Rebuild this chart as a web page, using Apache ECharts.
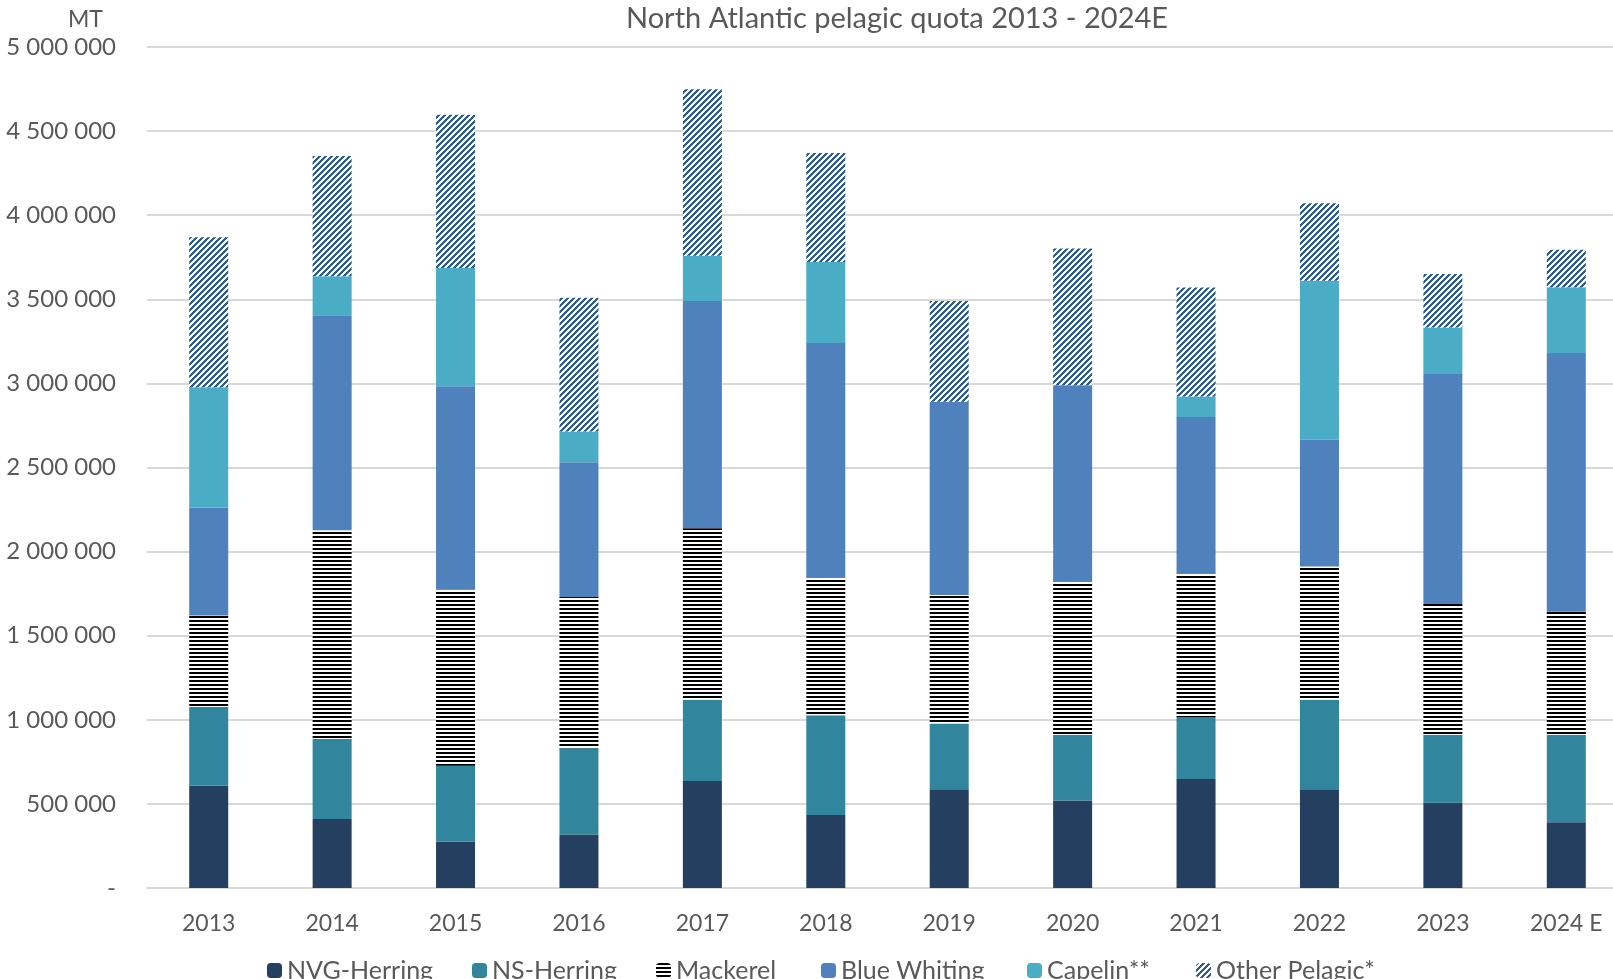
<!DOCTYPE html>
<html>
<head>
<meta charset="utf-8">
<title>North Atlantic pelagic quota</title>
<script src="https://cdn.jsdelivr.net/npm/echarts@6/dist/echarts.min.js"></script>
<style>
  html, body { margin: 0; padding: 0; background: #fff; }
  #chart { width: 1613px; height: 979px; }
</style>
</head>
<body>
<div id="chart"></div>
<script>
// quota per year, tonnes
var years = ['2013', '2014', '2015', '2016', '2017', '2018', '2019', '2020', '2021', '2022', '2023', '2024 E'];
var nvgHerring  = [610000, 410000, 275000, 318000, 636000, 434000, 587000, 520000, 648000, 587000, 507000, 391000];
var nsHerring   = [466000, 476000, 452000, 513000, 483000, 593000, 391000, 391000, 367000, 532000, 404000, 520000];
var mackerel    = [544000, 1241000, 1046000, 899000, 1020000, 819000, 764000, 911000, 855000, 792000, 777000, 731000];
var blueWhiting = [642000, 1278000, 1210000, 801000, 1351000, 1394000, 1149000, 1167000, 930000, 756000, 1368000, 1539000];
var capelin     = [715000, 232000, 703000, 183000, 269000, 482000, 0, 0, 122000, 944000, 277000, 390000];
var otherPelagic = [892000, 715000, 911000, 795000, 990000, 648000, 599000, 813000, 648000, 460000, 318000, 223000];

var species = ['NVG-Herring', 'NS-Herring', 'Mackerel', 'Blue Whiting', 'Capelin**', 'Other Pelagic*'];
// x of each legend entry, so the row lines up like the excel one
var legendLeft = [262, 467, 651, 816, 1022, 1191];

var FONT = 'Lato';
var TEXT = '#595959';

// excel-like fill patterns
function hStripes() {
  var c = document.createElement('canvas');
  c.width = 4; c.height = 4;
  var g = c.getContext('2d');
  g.fillStyle = '#fff';
  g.fillRect(0, 0, 4, 4);
  g.fillStyle = '#000';
  g.fillRect(0, 0, 4, 2);
  return c;
}
function diagStripes() {
  var n = 6;
  var c = document.createElement('canvas');
  c.width = n; c.height = n;
  var g = c.getContext('2d');
  g.fillStyle = '#fff';
  g.fillRect(0, 0, n, n);
  g.fillStyle = '#2e5c99';
  for (var x = 0; x < n; x++) {
    for (var y = 0; y < n; y++) {
      if ((x + y) % n < 3) g.fillRect(x, y, 1, 1);
    }
  }
  return c;
}

function fmt(v) {
  if (v === 0) return '-';
  return String(v).replace(/\B(?=(\d{3})+(?!\d))/g, ' ');
}

function bar(name, data, color) {
  return {
    name: name,
    type: 'bar',
    stack: 'quota',
    barWidth: 39,
    data: data,
    itemStyle: { color: color }
  };
}

var legends = species.map(function (s, i) {
  return {
    left: legendLeft[i],
    top: 953,
    itemWidth: 15,
    itemHeight: 15,
    selectedMode: false,
    textStyle: { fontFamily: FONT, fontSize: 25, color: TEXT },
    data: [s]
  };
});

var chart = echarts.init(document.getElementById('chart'));
chart.setOption({
  animation: false,
  title: {
    text: 'North Atlantic pelagic quota 2013 - 2024E',
    left: 892,
    top: -1,
    textAlign: 'center',
    textStyle: { fontFamily: FONT, fontSize: 29, fontWeight: 'normal', color: TEXT }
  },
  graphic: [{
    type: 'text',
    left: 68,
    top: 8,
    style: { text: 'MT', fontFamily: FONT, fontSize: 23, fill: TEXT }
  }],
  legend: legends,
  grid: { left: 147, right: -15, top: 47, bottom: 91, outerBoundsMode: 'none' },
  xAxis: {
    type: 'category',
    data: years,
    axisTick: { show: false },
    axisLine: { lineStyle: { color: '#d9d9d9', width: 2 } },
    axisLabel: { fontFamily: FONT, fontSize: 23, color: TEXT, margin: 24 }
  },
  yAxis: {
    type: 'value',
    min: 0,
    max: 5000000,
    interval: 500000,
    axisLine: { show: false },
    axisTick: { show: false },
    splitLine: { lineStyle: { color: '#d9d9d9', width: 2 } },
    axisLabel: { fontFamily: FONT, fontSize: 24, color: TEXT, margin: 31, formatter: fmt }
  },
  series: [
    bar(species[0], nvgHerring, '#253f60'),
    bar(species[1], nsHerring, '#31859c'),
    bar(species[2], mackerel, { image: hStripes(), repeat: 'repeat' }),
    bar(species[3], blueWhiting, '#4f81bd'),
    bar(species[4], capelin, '#4bacc6'),
    bar(species[5], otherPelagic, { image: diagStripes(), repeat: 'repeat' })
  ]
});
</script>
</body>
</html>
